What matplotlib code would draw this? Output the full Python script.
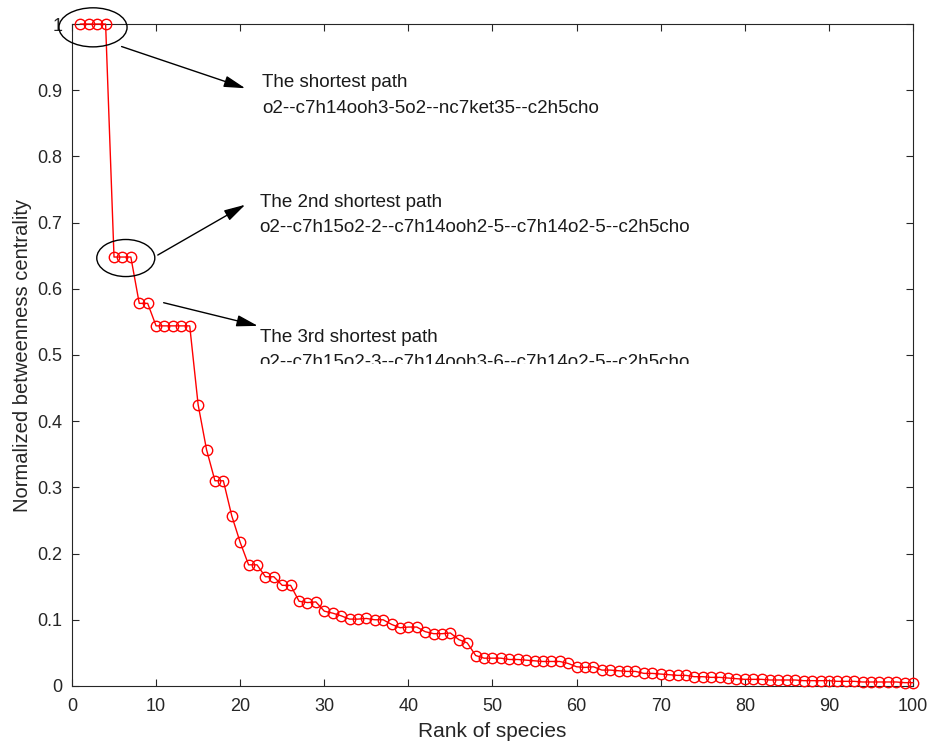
import numpy as np
import matplotlib
matplotlib.use('Agg')
from matplotlib import pyplot as pl
from matplotlib.patches import Ellipse, Rectangle

###############################################################################
# betweenness centrality of the top 100 species, ranked
rank = np.arange(1, 101)
centrality = [1.0, 1.0, 1.0, 1.0,
              0.648, 0.648, 0.648,
              0.578, 0.578,
              0.544, 0.544, 0.544, 0.544, 0.544,
              0.425, 0.357, 0.310, 0.310, 0.257, 0.217,
              0.183, 0.183, 0.165, 0.165, 0.152, 0.152,
              0.128, 0.126, 0.127, 0.113,
              0.110, 0.106, 0.101, 0.101, 0.102, 0.100, 0.100, 0.093, 0.088, 0.089,
              0.089, 0.082, 0.079, 0.079, 0.080, 0.070, 0.065, 0.046, 0.042, 0.042,
              0.042, 0.040, 0.040, 0.039, 0.038, 0.037, 0.037, 0.037, 0.034, 0.029,
              0.028, 0.029, 0.024, 0.024, 0.023, 0.022, 0.022, 0.019, 0.019, 0.018,
              0.017, 0.016, 0.016, 0.014, 0.014, 0.013, 0.013, 0.012, 0.011, 0.010,
              0.010, 0.010, 0.009, 0.009, 0.009, 0.009, 0.008, 0.008, 0.008, 0.008,
              0.007, 0.007, 0.007, 0.006, 0.006, 0.006, 0.006, 0.006, 0.005, 0.005]

path_titles = ['The shortest path',
               'The 2nd shortest path',
               'The 3rd shortest path']
path_names  = ['o2--c7h14ooh3-5o2--nc7ket35--c2h5cho',
               'o2--c7h15o2-2--c7h14ooh2-5--c7h14o2-5--c2h5cho',
               'o2--c7h15o2-3--c7h14ooh3-6--c7h14o2-5--c2h5cho']

xticks = np.arange(0, 101, 10)
yticks = np.round(np.arange(0, 1.01, 0.1), 1)
ytick_labels = ['0'] + ['%.1f' % v for v in yticks[1:-1]] + ['1']

###############################################################################
pl.rcParams['font.family'] = ['Liberation Sans', 'DejaVu Sans']
axcol = (0.15, 0.15, 0.15)

fig = pl.figure(figsize=(9.31, 7.44), dpi=100)
ax = fig.add_axes([0.0773, 0.078, 0.9034, 0.8897])

ax.plot(rank, centrality, color='red', linewidth=1.0, marker='o',
        markersize=7.5, markerfacecolor='none', markeredgecolor='red',
        markeredgewidth=1.0, clip_on=False, zorder=3)

# circles around the plateaus of the first two paths
ax.add_patch(Ellipse((2.5, 0.995), 8.1, 0.059, fill=False, edgecolor='k',
                     linewidth=1.0, clip_on=False, zorder=4))
ax.add_patch(Ellipse((6.4, 0.6465), 6.9, 0.056, fill=False, edgecolor='k',
                     linewidth=1.0, zorder=4))

arrow_props = dict(arrowstyle='-|>,head_length=1.3,head_width=0.35',
                   color='k', linewidth=1.0, shrinkA=0, shrinkB=0)
arrow_from = [(5.9, 0.966), (10.2, 0.651), (10.9, 0.579)]
arrow_to   = [(20.6, 0.903), (20.6, 0.727), (22.1, 0.544)]
text_pos   = [(22.6, 0.912), (22.3, 0.731), (22.3, 0.527)]

for a, b, t, title, name in zip(arrow_from, arrow_to, text_pos, path_titles, path_names):
    ax.annotate('', xy=b, xytext=a, arrowprops=arrow_props)
    ax.text(t[0], t[1], title, fontsize=13.5, va='center', ha='left',
            color=(0.1, 0.1, 0.1), zorder=2)
    ax.text(t[0], t[1] - 0.039, name, fontsize=13.5, va='center', ha='left',
            color=(0.1, 0.1, 0.1), zorder=2)

# the last text box is cut off at its lower edge
ax.add_patch(Rectangle((21.0, 0.455), 65, 0.0315, facecolor='white',
                       edgecolor='none', zorder=6))

ax.set_xlim(0, 100)
ax.set_ylim(0, 1)
ax.set_xticks(xticks)
ax.set_xticklabels([str(v) for v in xticks], fontsize=13)
ax.set_yticks(yticks)
ax.set_yticklabels(ytick_labels, fontsize=13)
ax.tick_params(direction='in', top=True, right=True, length=5, width=0.8,
               colors=axcol, labelcolor=axcol)
ax.tick_params(axis='x', pad=9)
ax.tick_params(axis='y', pad=7)
for sp in ax.spines.values():
    sp.set_color(axcol)
    sp.set_linewidth(0.8)

ax.set_xlabel('Rank of species', fontsize=15, color=axcol, labelpad=5)
ax.set_ylabel('Normalized betweenness centrality', fontsize=14.5,
              color=axcol, labelpad=4)

pl.savefig('out.png', dpi=100)
pl.close()
